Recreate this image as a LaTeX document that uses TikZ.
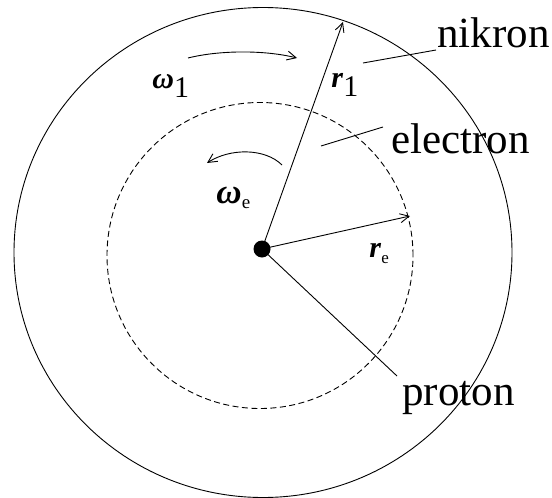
\documentclass[tikz,border=0pt]{standalone}
\usepackage{fontspec}
\setmainfont{Liberation Serif}
\usetikzlibrary{arrows.meta}
\newcommand{\vecsym}[1]{\textbf{\textit{#1}}}

\begin{document}
\begin{tikzpicture}[
  x=1pt,y=-1pt,
  line width=0.9pt,
  orbit/.style={dash pattern=on 6pt off 3.5pt},
  vec/.style={-{Straight Barb[length=9pt,width=9pt]}},
  spin/.style={-{Straight Barb[length=9pt,width=9pt]}},
  word/.style={font=\fontsize{43}{45}\selectfont,inner sep=0pt,anchor=base west},
  sym/.style={font=\fontsize{30}{32}\selectfont,inner sep=0pt,anchor=base west}
]
\useasboundingbox (0,0) rectangle (552,498);
% orbits
\draw (263,252.5) ellipse [x radius=249pt, y radius=245pt];
\draw[orbit] (260,255.5) circle [radius=153pt];
% proton and radii
\node[circle,fill,inner sep=0pt,minimum size=17pt] (p) at (262,249) {};
\coordinate (tip1) at (343,22);
\coordinate (tipe) at (410,216);
\coordinate (pe) at (397,376);
\draw[vec] (p.center) -- (tip1);
\draw[vec] (p.center) -- (tipe);
\draw (p.center) -- (pe);
% labels
\node[word] (nik) at (437,47) {nikron};
\node[word] (ele) at (391,153) {electron};
\node[word] (pro) at (402,405) {proton};
\coordinate (n1) at (363,63);  \coordinate (n2) at (436,50);
\coordinate (e1) at (321,146); \coordinate (e2) at (383,127);
\draw (n1) -- (n2);
\draw (e1) -- (e2);
% symbols
\node[sym] (w1) at (152,88) {\vecsym{ω}\raisebox{-9pt}{1}};
\node[sym] (r1) at (331,87) {\vecsym{r}\raisebox{-9pt}{1}};
\node[sym] (re) at (369,257) {\vecsym{r}\raisebox{-6pt}{\fontsize{17}{17}\selectfont e}};
\node[sym,font=\fontsize{35}{37}\selectfont] (we) at (216,203) {\vecsym{ω}\raisebox{-5pt}{\fontsize{19}{19}\selectfont e}};
% spin arrows
\coordinate (s1a) at (188,58);  \coordinate (s1b) at (297,58);
\coordinate (sea) at (282,165); \coordinate (seb) at (207,163);
\draw[spin] (s1a) .. controls (220,50) and (265,50) .. (s1b);
\draw[spin] (sea) .. controls (265,148) and (230,148) .. (seb);
\end{tikzpicture}
\end{document}
